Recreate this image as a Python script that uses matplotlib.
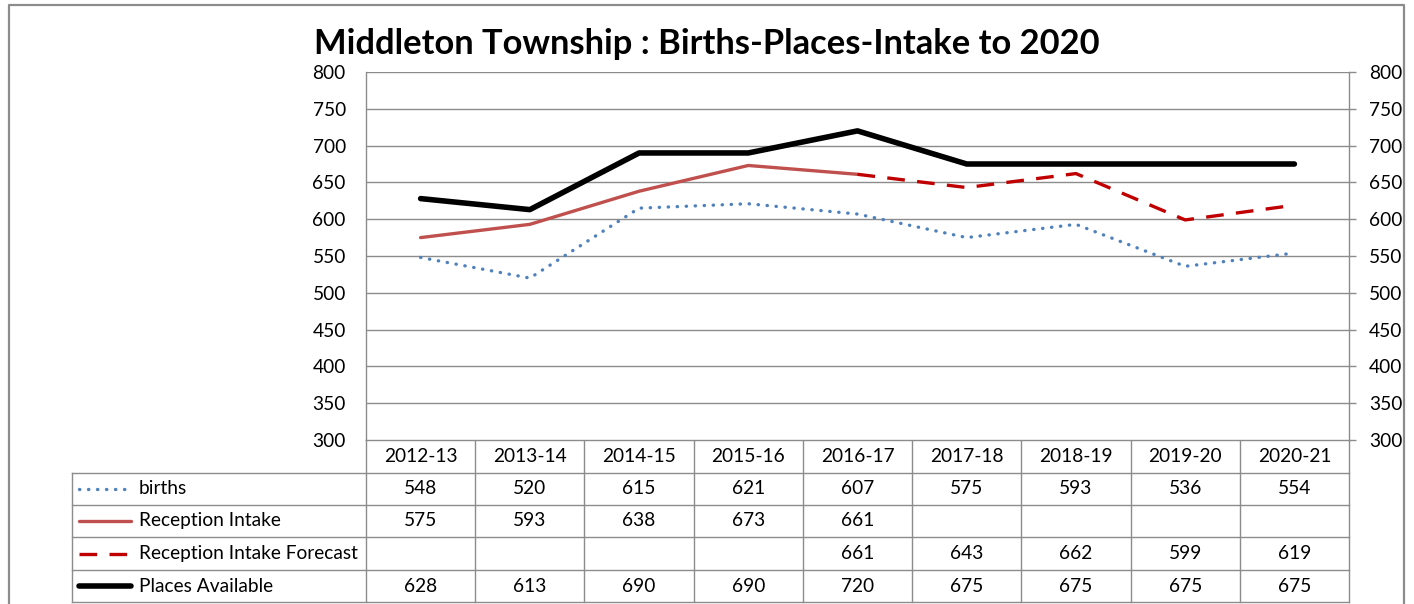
import matplotlib
matplotlib.use("Agg")
import matplotlib.pyplot as plt
import matplotlib.transforms as mtransforms
import numpy as np

# ---- data ----
years = ["2012-13", "2013-14", "2014-15", "2015-16", "2016-17",
         "2017-18", "2018-19", "2019-20", "2020-21"]
births = [548, 520, 615, 621, 607, 575, 593, 536, 554]
reception_intake = [575, 593, 638, 673, 661, None, None, None, None]
reception_forecast = [None, None, None, None, 661, 643, 662, 599, 619]
places_available = [628, 613, 690, 690, 720, 675, 675, 675, 675]
series_names = ["births", "Reception Intake", "Reception Intake Forecast", "Places Available"]
y_ticks = [300, 350, 400, 450, 500, 550, 600, 650, 700, 750, 800]
title = "Middleton Township : Births-Places-Intake to 2020"

FONT = "Lato"
plt.rcParams['font.family'] = [FONT, 'DejaVu Sans']

W, H = 1414, 604
fig = plt.figure(figsize=(W / 100, H / 100), dpi=100)
fig.patch.set_facecolor("white")

L, R, T, B = 366, 1349, 72, 440
ax = fig.add_axes([L / W, 1 - B / H, (R - L) / W, (B - T) / H])
ov = fig.add_axes([0, 0, 1, 1], zorder=-1)
ov.set_xlim(0, W)
ov.set_ylim(H, 0)
ov.axis("off")

GRID = "#8c8c8c"
C_BIRTH = "#4F81BD"
C_RI = "#C0504D"
C_FC = "#C00000"
C_PA = "#000000"

def to_arr(v):
    return np.array([np.nan if x is None else x for x in v], dtype=float)

DOT = (0, (0.1, 2.6))
DASH = (0, (5.3, 3.7))
x = np.arange(len(years))
ax.plot(x, to_arr(births), color=C_BIRTH, lw=2.4, linestyle=DOT,
        dash_capstyle="round", zorder=3)
ax.plot(x, to_arr(reception_intake), color=C_RI, lw=2.4, solid_capstyle="round", zorder=4)
ax.plot(x, to_arr(reception_forecast), color=C_FC, lw=2.4, linestyle=DASH, zorder=4)
ax.plot(x, to_arr(places_available), color=C_PA, lw=4.0, solid_capstyle="round",
        solid_joinstyle="round", zorder=5)

ax.set_xlim(-0.5, len(years) - 0.5)
ax.set_ylim(300, 800)
ax.set_yticks(y_ticks)
ax.set_xticks([])
ax.yaxis.grid(True, color=GRID, lw=1)
ax.set_axisbelow(True)
for s in ["top", "bottom"]:
    ax.spines[s].set_visible(False)
for s in ["left", "right"]:
    ax.spines[s].set_color(GRID)
    ax.spines[s].set_linewidth(1)
FS = 13.8
ax.tick_params(axis="y", which="both", left=False, right=True, labelleft=True,
               labelright=True, length=5, width=1, color=GRID, labelsize=FS,
               pad=9.5, direction="out")

# ---- title ----
ov.text(707, 44, title, ha="center", va="center", fontsize=24.8,
        fontweight="bold", color="black")

# ---- outer frame ----
ov.plot([9, 9, 1404, 1404], [620, 5, 5, 620], color="#8c8c8c", lw=1.6, clip_on=False)

# ---- data table ----
blend = mtransforms.blended_transform_factory(ax.transData, ov.transData)
row_edges = [440, 472.5, 504.5, 537, 570, 602]
TL = 72
ov.plot([L, R], [row_edges[0], row_edges[0]], color=GRID, lw=1)
for yy in row_edges[1:]:
    ov.plot([TL, R], [yy, yy], color=GRID, lw=1)
ov.plot([TL, TL], [row_edges[1], row_edges[-1]], color=GRID, lw=1)
for i in range(len(years) + 1):
    ov.plot([i - 0.5, i - 0.5], [row_edges[0], row_edges[-1]], color=GRID, lw=1,
            transform=blend)

centers = [(row_edges[k] + row_edges[k + 1]) / 2 for k in range(5)]
for i, yr in enumerate(years):
    ov.text(i, centers[0], yr, transform=blend, ha="center", va="center", fontsize=FS)
rows = [births, reception_intake, reception_forecast, places_available]
for r, vals in enumerate(rows):
    for i, v in enumerate(vals):
        if v is not None:
            ov.text(i, centers[r + 1], str(v), transform=blend, ha="center",
                    va="center", fontsize=FS)

styles = [
    dict(color=C_BIRTH, lw=2.4, linestyle=DOT, dash_capstyle="round"),
    dict(color=C_RI, lw=2.4, solid_capstyle="round"),
    dict(color=C_FC, lw=2.4, linestyle=DASH),
    dict(color=C_PA, lw=4.0, solid_capstyle="round"),
]
for r, (name, st) in enumerate(zip(series_names, styles)):
    cy = centers[r + 1]
    ov.plot([79, 131], [cy, cy], **st)
    ov.text(139, cy, name, ha="left", va="center", fontsize=FS)

fig.savefig("out.png", dpi=100, facecolor="white")
